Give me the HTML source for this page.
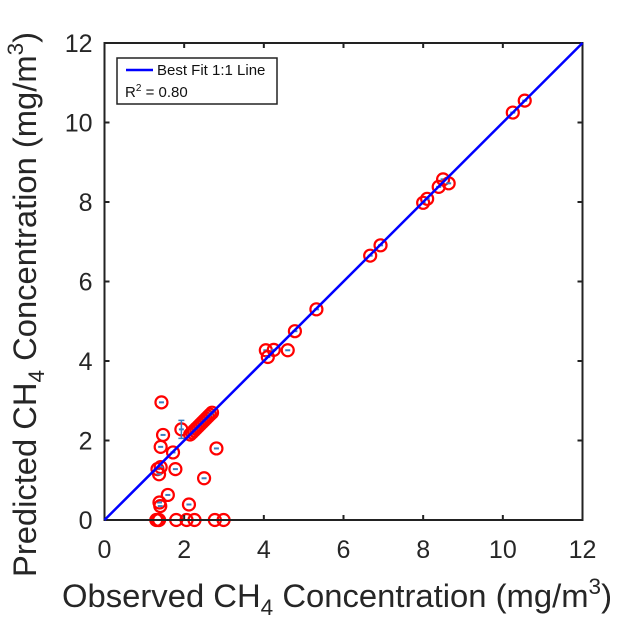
<!DOCTYPE html>
<html><head><meta charset="utf-8"><style>
html,body{margin:0;padding:0;background:#fff;width:625px;height:629px;overflow:hidden}
text{font-family:"Liberation Sans",Arial,sans-serif}
</style></head><body>
<svg id="chart" width="625" height="629" xmlns="http://www.w3.org/2000/svg">
<g id="marks"></g>
</svg>
<script>
const observed=[1.43,1.47,1.41,1.72,1.93,1.33,1.41,1.37,1.78,2.81,2.50,1.59,1.38,1.40,2.12,1.30,1.35,1.37,1.80,2.06,2.26,2.77,2.99,
2.15,2.2,2.25,2.3,2.35,2.4,2.45,2.5,2.55,2.6,2.65,2.7,
4.05,4.1,4.25,4.6,4.78,5.32,6.67,6.93,8.0,8.1,8.39,8.5,8.64,10.25,10.55];
const predicted=[2.96,2.14,1.84,1.70,2.28,1.28,1.33,1.15,1.28,1.80,1.05,0.63,0.44,0.35,0.39,0,0,0,0,0,0,0,0,
2.15,2.2,2.25,2.3,2.35,2.4,2.45,2.5,2.55,2.6,2.65,2.7,
4.27,4.1,4.28,4.27,4.75,5.30,6.65,6.91,7.98,8.08,8.38,8.57,8.47,10.25,10.55];
const xTicks=[0,2,4,6,8,10,12];
const yTicks=[0,2,4,6,8,10,12];
const X0=104.5,X1=582.5,Y0=520,Y1=43;
const sx=v=>X0+(v/12)*(X1-X0);
const sy=v=>Y0-(v/12)*(Y0-Y1);
const NS="http://www.w3.org/2000/svg";
const svg=document.getElementById('chart');
function mk(t,a,p){const e=document.createElementNS(NS,t);for(const k in a)e.setAttribute(k,a[k]);(p||svg).appendChild(e);return e;}
const fr=mk('rect',{x:X0,y:Y1,width:X1-X0,height:Y0-Y1,fill:'none',stroke:'#222','stroke-width':2});


xTicks.forEach(t=>{
  mk('line',{x1:sx(t),x2:sx(t),y1:Y0,y2:Y0-5,stroke:'#222','stroke-width':2});
  mk('line',{x1:sx(t),x2:sx(t),y1:Y1,y2:Y1+5,stroke:'#222','stroke-width':2});
  const l=mk('text',{x:sx(t),y:Y0+38,'text-anchor':'middle','font-size':25,fill:'#262626'});
  l.textContent=t;
  
  
});
yTicks.forEach(t=>{
  mk('line',{x1:X0,x2:X0+5,y1:sy(t),y2:sy(t),stroke:'#222','stroke-width':2});
  mk('line',{x1:X1,x2:X1-5,y1:sy(t),y2:sy(t),stroke:'#222','stroke-width':2});
  const l=mk('text',{x:X0-12,y:sy(t)+9,'text-anchor':'end','font-size':25,fill:'#262626'});
  l.textContent=t;
  
  
});
const fit=mk('line',{x1:sx(0),y1:sy(0),x2:sx(12),y2:sy(12),stroke:'#0000ff','stroke-width':2.5});


const g=document.getElementById('marks');
observed.forEach((o,i)=>{
  const cx=sx(o),cy=sy(predicted[i]);
  mk('line',{x1:cx-2.5,x2:cx+2.5,y1:cy,y2:cy,stroke:'#3a7fc0','stroke-width':2},g);
  const c=mk('circle',{cx:cx,cy:cy,r:6,fill:'none',stroke:'#ff0000','stroke-width':2.2},g);
  
  
});
const eb=mk('path',{d:`M${sx(1.93)} ${sy(2.28)-9}V${sy(2.28)+9}M${sx(1.93)-3} ${sy(2.28)-9}h6M${sx(1.93)-3} ${sy(2.28)+9}h6`,stroke:'#3a7fc0','stroke-width':1.5,fill:'none'});


svg.appendChild(fit);
</script>
<svg style="position:absolute;left:0;top:0" width="625" height="629" xmlns="http://www.w3.org/2000/svg">
<g>
<rect x="117" y="58" width="160" height="46" fill="#fff" stroke="#222" stroke-width="1.5"/>
<line x1="126" y1="70" x2="153" y2="70" stroke="#0000ff" stroke-width="2.5"/>
<text x="157" y="75" font-size="15" fill="#111">Best Fit 1:1 Line</text>
<text x="125" y="97" font-size="15" fill="#111">R<tspan font-size="10" dy="-6">2</tspan><tspan dy="6"> = 0.80</tspan></text>
</g>
<text x="62" y="607" textLength="550" lengthAdjust="spacingAndGlyphs" font-size="32" fill="#262626">Observed CH<tspan font-size="22" dy="8">4</tspan><tspan dy="-8"> Concentration (mg/m</tspan><tspan font-size="22" dy="-13">3</tspan><tspan dy="13">)</tspan></text>
<text transform="translate(36,577) rotate(-90)" x="0" y="0" textLength="545" lengthAdjust="spacingAndGlyphs" font-size="32" fill="#262626">Predicted CH<tspan font-size="22" dy="8">4</tspan><tspan dy="-8"> Concentration (mg/m</tspan><tspan font-size="22" dy="-13">3</tspan><tspan dy="13">)</tspan></text>
</svg>
</body></html>
